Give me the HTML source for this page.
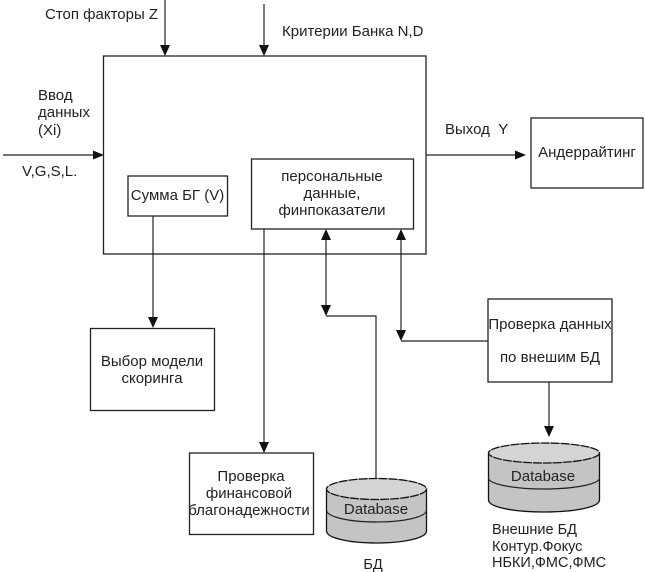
<!DOCTYPE html>
<html><head><meta charset="utf-8"><style>
html,body{margin:0;padding:0;background:#fff}
svg{display:block}
text{font-family:"Liberation Sans",Arial,sans-serif;font-size:15px;fill:#222}
.s{font-size:14.5px}
.b{fill:#fff;stroke:#222;stroke-width:1.3}
.l{fill:none;stroke:#222;stroke-width:1.2}
.a{fill:#111}
.d{fill:#c4c4c4;stroke:#111;stroke-width:1.3}
.t{fill:#d4d4d4;stroke:#111;stroke-width:1.3;stroke-dasharray:9 1}
.m{text-anchor:middle}
</style></head><body>
<svg width="645" height="572" viewBox="0 0 645 572" xmlns="http://www.w3.org/2000/svg">
<rect class="b" x="103.5" y="56" width="322.5" height="198"/>
<rect class="b" x="128" y="176" width="99.5" height="40"/>
<rect class="b" x="251.5" y="159" width="162" height="70"/>
<rect class="b" x="531" y="118" width="112" height="70"/>
<rect class="b" x="90.5" y="328.5" width="124" height="82"/>
<rect class="b" x="189.5" y="453" width="124" height="81.5"/>
<rect class="b" x="488" y="299" width="124" height="83"/>

<path class="l" d="M165 0V50M264 4V50M3 155H97M426 155H520M153 216V322M264 229V447M326 235V311M326 316H376V478M401 235V336M401 341H488M549 382V431"/>
<path class="a" d="M165 56l-5-11h10zM264 56l-5-11h10zM104 155l-11-4.500v9zM526 155l-11-4.500v9zM153 328l-5-11h10zM264 453l-5-11h10zM326 229l-5 11h10zM326 316l-5-11h10zM401 229l-5 11h10zM401 341l-5-11h10zM549 437l-5-11h10z"/>

<path class="d" d="M326.500 489V531C326.500 538 349 543 376.500 543S426.500 538 426.500 531V489Z"/>
<path class="l" d="M326.500 510C326.500 517 349 522 376.500 522S426.500 517 426.500 510"/>
<ellipse class="t" cx="376.500" cy="489" rx="50" ry="10.500"/>
<path class="d" d="M488.500 453V500C488.500 507 513 512 544 512S599.500 507 599.500 500V453Z"/>
<path class="l" d="M488.500 478C488.500 484 513 489 544 489S599.500 484 599.500 478"/>
<ellipse class="t" cx="544" cy="453" rx="55.500" ry="10"/>

<text x="45" y="19">Стоп факторы Z</text>
<text x="282" y="36">Критерии Банка N,D</text>
<text x="38" y="100">Ввод</text>
<text x="38" y="117">данных</text>
<text x="38" y="135">(Xi)</text>
<text x="22" y="176">V,G,S,L.</text>
<text x="445" y="134">Выход&#160; Y</text>
<text class="m" x="587" y="157">Андеррайтинг</text>
<text class="m" x="177.500" y="200">Сумма БГ (V)</text>
<text class="m" x="332" y="181">персональные</text>
<text class="m" x="332" y="198">данные,</text>
<text class="m" x="332" y="215">финпоказатели</text>
<text class="m" x="152" y="366">Выбор модели</text>
<text class="m" x="152" y="383">скоринга</text>
<text class="m" x="251" y="481">Проверка</text>
<text class="m" x="249" y="498">финансовой</text>
<text class="m" x="249" y="515">благонадежности</text>
<text class="m" x="550" y="329">Проверка данных</text>
<text class="m" x="550" y="362">по внешим БД</text>
<text class="m" x="376" y="514">Database</text>
<text class="m" x="543" y="481">Database</text>
<text class="m s" x="373" y="569">БД</text>
<text class="s" x="492" y="534">Внешние БД</text>
<text class="s" x="492" y="551">Контур.Фокус</text>
<text class="s" x="492" y="567">НБКИ,ФМС,ФМС</text>
</svg>
</body></html>
